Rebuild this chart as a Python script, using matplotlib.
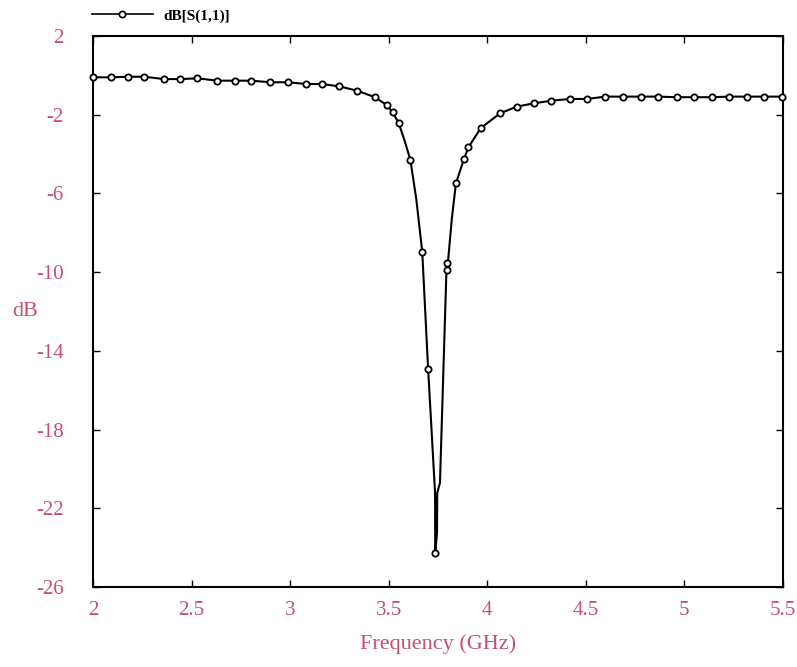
import matplotlib
matplotlib.use("Agg")
import matplotlib.pyplot as plt
from matplotlib.lines import Line2D

# ---- data ----
freq = [2.00, 2.09, 2.18, 2.26, 2.36, 2.44, 2.53, 2.63, 2.72, 2.80, 2.90, 2.99,
        3.08, 3.16, 3.25, 3.34, 3.43, 3.49, 3.52, 3.55, 3.58, 3.61, 3.64, 3.67,
        3.70, 3.735, 3.736, 3.745, 3.746, 3.760, 3.794, 3.797, 3.82, 3.841,
        3.882, 3.904, 3.967, 4.065, 4.149, 4.237, 4.323, 4.420, 4.507, 4.597,
        4.690, 4.778, 4.866, 4.960, 5.048, 5.138, 5.228, 5.316, 5.405, 5.493]
s11_db = [-0.10, -0.10, -0.07, -0.07, -0.19, -0.19, -0.15, -0.27, -0.27, -0.27,
          -0.35, -0.35, -0.44, -0.44, -0.56, -0.78, -1.11, -1.51, -1.88, -2.41,
          -3.30, -4.30, -6.30, -8.96, -14.94, -21.20, -24.25, -23.25, -21.22,
          -20.70, -9.52, -9.89, -7.30, -5.48, -4.25, -3.66, -2.68, -1.93, -1.59,
          -1.42, -1.29, -1.20, -1.20, -1.08, -1.08, -1.08, -1.08, -1.11, -1.11,
          -1.11, -1.08, -1.08, -1.08, -1.08]
# which of the points carry a marker
marker_idx = [0, 1, 2, 3, 4, 5, 6, 7, 8, 9, 10, 11, 12, 13, 14, 15, 16, 17, 18,
              19, 21, 23, 24, 26, 30, 31, 33, 34, 35, 36, 37, 38, 39, 40, 41,
              42, 43, 44, 45, 46, 47, 48, 49, 50, 51, 52, 53]

xticks = [2, 2.5, 3, 3.5, 4, 4.5, 5, 5.5]
xticklabels = ["2", "2.5", "3", "3.5", "4", "4.5", "5", "5.5"]
yticks = [2, -2, -6, -10, -14, -18, -22, -26]
series_name = "dB[S(1,1)]"

label_color = "#C8506E"
plt.rcParams['font.family'] = ['Liberation Serif', 'DejaVu Serif']
plt.rcParams['axes.unicode_minus'] = False

fig = plt.figure(figsize=(7.97, 6.67), dpi=100)
ax = fig.add_axes([93 / 797, 1 - 587 / 667, (783 - 93) / 797, (587 - 36) / 667])

ax.plot(freq, s11_db, color="black", lw=1.5, marker="o", markersize=4.5,
        markerfacecolor="white", markeredgecolor="black", markeredgewidth=1.3,
        markevery=marker_idx, clip_on=False, zorder=3)

ax.set_xlim(2, 5.5)
ax.set_ylim(-26, 2)
ax.set_xticks(xticks)
ax.set_xticklabels(xticklabels)
ax.set_yticks(yticks)
ax.tick_params(direction="in", top=True, right=True, length=5, width=1,
               colors="black", labelcolor=label_color, labelsize=15)
ax.tick_params(axis="x", pad=10)
ax.tick_params(axis="y", pad=21)
for sp in ax.spines.values():
    sp.set_linewidth(1.5)

ax.set_xlabel("Frequency (GHz)", color=label_color, fontsize=16)
ax.xaxis.set_label_coords(0.5, -0.085)
ax.set_ylabel("dB", color=label_color, fontsize=16, rotation=0,
              ha="center", va="center")
ax.yaxis.set_label_coords(-0.098, 0.50)

handle = Line2D([], [], color="black", lw=1.2, marker="o", markersize=4.5,
                markerfacecolor="white", markeredgecolor="black",
                markeredgewidth=1.2)
fig.legend([handle], [series_name], loc="center left",
           bbox_to_anchor=(78 / 797, 1 - 16 / 667), frameon=False,
           handlelength=4.0, handletextpad=0.7,
           prop={'weight': 'bold', 'size': 11})

fig.savefig("out.png", dpi=100)
